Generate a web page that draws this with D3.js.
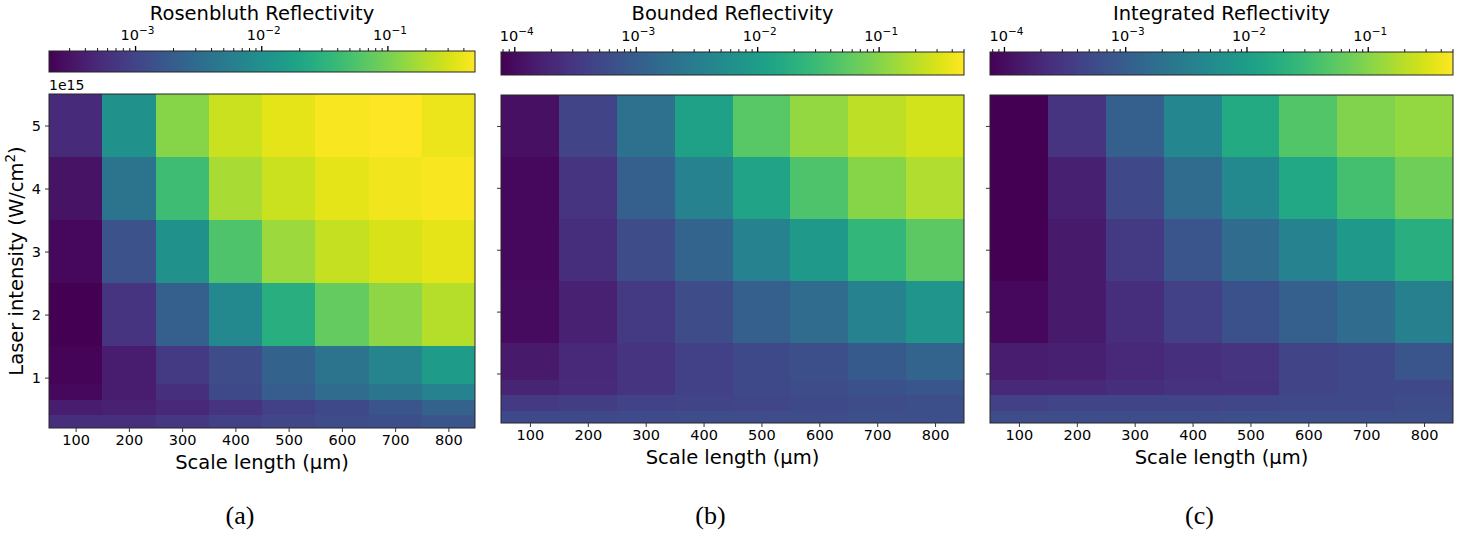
<!DOCTYPE html>
<html>
<head>
<meta charset="utf-8">
<script src="https://cdn.jsdelivr.net/npm/d3@7"></script>
<style>
  body { margin: 0; background: #fff; }
  text { font-family: "DejaVu Sans", sans-serif; fill: #000; }
</style>
</head>
<body>
<svg id="chart" width="1470" height="534"></svg>
<script>
// Reflectivity maps vs scale length and laser intensity
var scaleLengths = [100, 200, 300, 400, 500, 600, 700, 800];     // um
var intensities = [0.3, 0.5, 0.8, 1, 2, 3, 4, 5];                // x 1e15 W/cm^2
var yTicks = [1, 2, 3, 4, 5];

// rows follow intensities (bottom to top), columns follow scaleLengths
var rosenbluth = [
  [5.7e-4, 6.1e-4, 7.1e-4, 9.0e-4, 1.05e-3, 1.23e-3, 1.33e-3, 1.56e-3],
  [3.84e-4, 4.15e-4, 4.85e-4, 6.6e-4, 9.0e-4, 1.14e-3, 1.56e-3, 2.3e-3],
  [2.4e-4, 3.84e-4, 6.1e-4, 1.14e-3, 1.97e-3, 3.13e-3, 4.28e-3, 6.3e-3],
  [2.23e-4, 3.84e-4, 7.7e-4, 1.23e-3, 2.3e-3, 3.96e-3, 6.8e-3, 0.0149],
  [2.06e-4, 6.6e-4, 2.12e-3, 7.98e-3, 0.0277, 0.076, 0.131, 0.209],
  [2.4e-4, 1.44e-3, 0.0101, 0.0557, 0.153, 0.244, 0.308, 0.36],
  [3.0e-4, 3.96e-3, 0.0442, 0.179, 0.264, 0.36, 0.42, 0.455],
  [5.2e-4, 0.0101, 0.121, 0.264, 0.36, 0.455, 0.49, 0.39]
];
var bounded = [
  [5.3e-4, 5.3e-4, 5.6e-4, 5.8e-4, 5.8e-4, 5.8e-4, 6.3e-4, 6.3e-4],
  [3.4e-4, 3.7e-4, 4.4e-4, 4.5e-4, 4.9e-4, 5.3e-4, 5.8e-4, 6.3e-4],
  [1.85e-4, 2.2e-4, 2.87e-4, 4.07e-4, 5.3e-4, 5.8e-4, 6.9e-4, 8.2e-4],
  [1.42e-4, 2.02e-4, 2.87e-4, 4.07e-4, 5.3e-4, 6.3e-4, 8.97e-4, 1.28e-3],
  [1.0e-4, 1.7e-4, 3.4e-4, 5.8e-4, 1.07e-3, 1.66e-3, 3.66e-3, 7.4e-3],
  [9.2e-5, 2.4e-4, 5.8e-4, 1.28e-3, 3.66e-3, 8.8e-3, 0.0252, 0.0556],
  [9.2e-5, 2.9e-4, 1.07e-3, 3.66e-3, 0.0125, 0.0428, 0.103, 0.174],
  [1.09e-4, 4.45e-4, 1.98e-3, 0.0115, 0.0509, 0.1225, 0.207, 0.27]
];
var integrated = [
  [5.7e-4, 5.7e-4, 5.7e-4, 5.7e-4, 6.2e-4, 6.2e-4, 6.2e-4, 6.2e-4],
  [4.0e-4, 4.4e-4, 4.4e-4, 4.4e-4, 4.8e-4, 5.2e-4, 5.2e-4, 5.7e-4],
  [2.0e-4, 2.0e-4, 2.4e-4, 2.8e-4, 2.8e-4, 4.4e-4, 5.2e-4, 5.2e-4],
  [1.53e-4, 1.67e-4, 2.0e-4, 2.6e-4, 2.84e-4, 4.4e-4, 5.2e-4, 7.5e-4],
  [9.1e-5, 1.41e-4, 2.38e-4, 4.04e-4, 6.8e-4, 1.06e-3, 1.64e-3, 3.33e-3],
  [7.6e-5, 1.41e-4, 3.39e-4, 7.5e-4, 1.64e-3, 3.63e-3, 8.7e-3, 0.0192],
  [7.6e-5, 1.67e-4, 5.2e-4, 1.64e-3, 4.72e-3, 0.0148, 0.0356, 0.072],
  [7.6e-5, 2.84e-4, 1.06e-3, 4.32e-3, 0.0161, 0.0463, 0.0935, 0.122]
];

// colour norm limits of each panel
var normA = [2.06e-4, 0.49];
var normB = [7.7e-5, 0.5];
var normC = [7.6e-5, 0.5];

var titles = ["Rosenbluth Reflectivity", "Bounded Reflectivity", "Integrated Reflectivity"];
var panelTags = ["(a)", "(b)", "(c)"];

var panels = [
  { data: rosenbluth, norm: normA, title: titles[0], tag: panelTags[0],
    x0: 49, x1: 475, y0: 94, y1: 428, cb0: 51, cb1: 72, labels: true },
  { data: bounded, norm: normB, title: titles[1], tag: panelTags[1],
    x0: 501, x1: 964, y0: 95, y1: 423, cb0: 52, cb1: 75, labels: false },
  { data: integrated, norm: normC, title: titles[2], tag: panelTags[2],
    x0: 990, x1: 1453, y0: 95, y1: 423, cb0: 52, cb1: 75, labels: false }
];

var svg = d3.select("#chart");
var defs = svg.append("defs");
var frameColor = "#262626";

// cell edges from centres (nearest shading)
function edges(c) {
  var e = [c[0] - (c[1] - c[0]) / 2];
  for (var i = 1; i < c.length; i++) e.push((c[i - 1] + c[i]) / 2);
  e.push(c[c.length - 1] + (c[c.length - 1] - c[c.length - 2]) / 2);
  return e;
}
var xEdges = edges(scaleLengths);
var yEdges = edges(intensities);

function sciLabel(sel, v) {
  var p = Math.round(Math.log10(v));
  sel.append("tspan").text("10");
  sel.append("tspan")
    .attr("font-size", "10.5px")
    .attr("dy", "-6")
    .text("\u2212" + Math.abs(p));
}

panels.forEach(function (p, k) {
  var g = svg.append("g");
  var cx = (p.x0 + p.x1) / 2;

  var xScale = d3.scaleLinear().domain([xEdges[0], xEdges[xEdges.length - 1]]).range([p.x0, p.x1]);
  var yScale = d3.scaleLinear().domain([yEdges[0], yEdges[yEdges.length - 1]]).range([p.y1, p.y0]);
  var color = d3.scaleSequentialLog(d3.interpolateViridis).domain(p.norm);

  // heat map cells
  var cells = [];
  p.data.forEach(function (row, i) {
    row.forEach(function (v, j) { cells.push({ i: i, j: j, v: v }); });
  });
  var px = v => Math.round(xScale(v));
  var py = v => Math.round(yScale(v));
  g.append("g")
    .attr("shape-rendering", "crispEdges")
    .selectAll("rect")
    .data(cells)
    .enter()
    .append("rect")
    .attr("x", d => px(xEdges[d.j]))
    .attr("y", d => py(yEdges[d.i + 1]))
    .attr("width", d => px(xEdges[d.j + 1]) - px(xEdges[d.j]))
    .attr("height", d => py(yEdges[d.i]) - py(yEdges[d.i + 1]))
    .attr("fill", d => color(d.v));

  g.append("rect")
    .attr("x", p.x0).attr("y", p.y0)
    .attr("width", p.x1 - p.x0).attr("height", p.y1 - p.y0)
    .attr("fill", "none").attr("stroke", frameColor).attr("stroke-width", 1);

  // x axis
  var xAxis = d3.axisBottom(xScale).tickValues(scaleLengths).tickSize(4).tickPadding(3);
  var xa = g.append("g")
    .attr("transform", `translate(0, ${p.y1})`)
    .call(xAxis);
  xa.select(".domain").remove();
  xa.selectAll("text").attr("font-size", "14.5px").attr("font-family", "DejaVu Sans").attr("fill", "#111");
  xa.selectAll("line").attr("stroke", "#333");

  g.append("text")
    .attr("x", cx).attr("y", p.y1 + 41)
    .attr("text-anchor", "middle")
    .attr("font-size", "19.5px")
    .text("Scale length (\u03bcm)");

  // y axis
  var yAxis = d3.axisLeft(yScale).tickValues(yTicks).tickSize(4).tickPadding(4).tickFormat(d3.format("d"));
  if (!p.labels) yAxis.tickFormat("");
  var ya = g.append("g")
    .attr("transform", `translate(${p.x0}, 0)`)
    .call(yAxis);
  ya.select(".domain").remove();
  ya.selectAll("text").attr("font-size", "14.5px").attr("font-family", "DejaVu Sans").attr("fill", "#111");
  ya.selectAll("line").attr("stroke", "#333");

  if (p.labels) {
    g.append("text")
      .attr("x", p.x0).attr("y", p.y0 - 4)
      .attr("font-size", "14px")
      .text("1e15");

    var ylab = g.append("text")
      .attr("transform", `translate(23, ${(p.y0 + p.y1) / 2}) rotate(-90)`)
      .attr("text-anchor", "middle")
      .attr("font-size", "19.5px");
    ylab.append("tspan").text("Laser intensity (W/cm");
    ylab.append("tspan").attr("font-size", "13.5px").attr("dy", "-8").text("2");
    ylab.append("tspan").attr("dy", "8").text(")");
  }

  // colour bar
  var cbScale = d3.scaleLog().domain(p.norm).range([p.x0, p.x1]);
  var grad = defs.append("linearGradient")
    .attr("id", "cb" + k)
    .attr("x1", "0").attr("x2", "1").attr("y1", "0").attr("y2", "0");
  d3.range(0, 41).forEach(function (s) {
    var x = p.x0 + (p.x1 - p.x0) * s / 40;
    grad.append("stop")
      .attr("offset", (s / 40 * 100) + "%")
      .attr("stop-color", color(cbScale.invert(x)));
  });
  g.append("rect")
    .attr("x", p.x0).attr("y", p.cb0)
    .attr("width", p.x1 - p.x0).attr("height", p.cb1 - p.cb0)
    .attr("fill", `url(#cb${k})`)
    .attr("stroke", frameColor).attr("stroke-width", 1);

  var cbTicks = cbScale.ticks();
  var major = cbTicks.filter(t => Math.abs(Math.log10(t) - Math.round(Math.log10(t))) < 1e-6);
  g.append("g").selectAll("line")
    .data(cbTicks)
    .enter()
    .append("line")
    .attr("x1", d => cbScale(d)).attr("x2", d => cbScale(d))
    .attr("y1", p.cb0)
    .attr("y2", d => major.indexOf(d) >= 0 ? p.cb0 - 5 : p.cb0 - 3)
    .attr("stroke", "#000")
    .attr("stroke-width", d => major.indexOf(d) >= 0 ? 1.3 : 0.9);

  major.forEach(function (t) {
    var lab = g.append("text")
      .attr("x", cbScale(t) + 2).attr("y", p.cb0 - 11)
      .attr("text-anchor", "middle")
      .attr("font-size", "14.5px");
    sciLabel(lab, t);
  });

  g.append("text")
    .attr("x", cx).attr("y", 20)
    .attr("text-anchor", "middle")
    .attr("font-size", "19.5px")
    .text(p.title);

  // panel tag
  g.append("text")
    .attr("x", cx - 22).attr("y", 524)
    .attr("text-anchor", "middle")
    .style("font-family", "'Liberation Serif', serif")
    .attr("font-size", "26px")
    .text(p.tag);
});
</script>
</body>
</html>
